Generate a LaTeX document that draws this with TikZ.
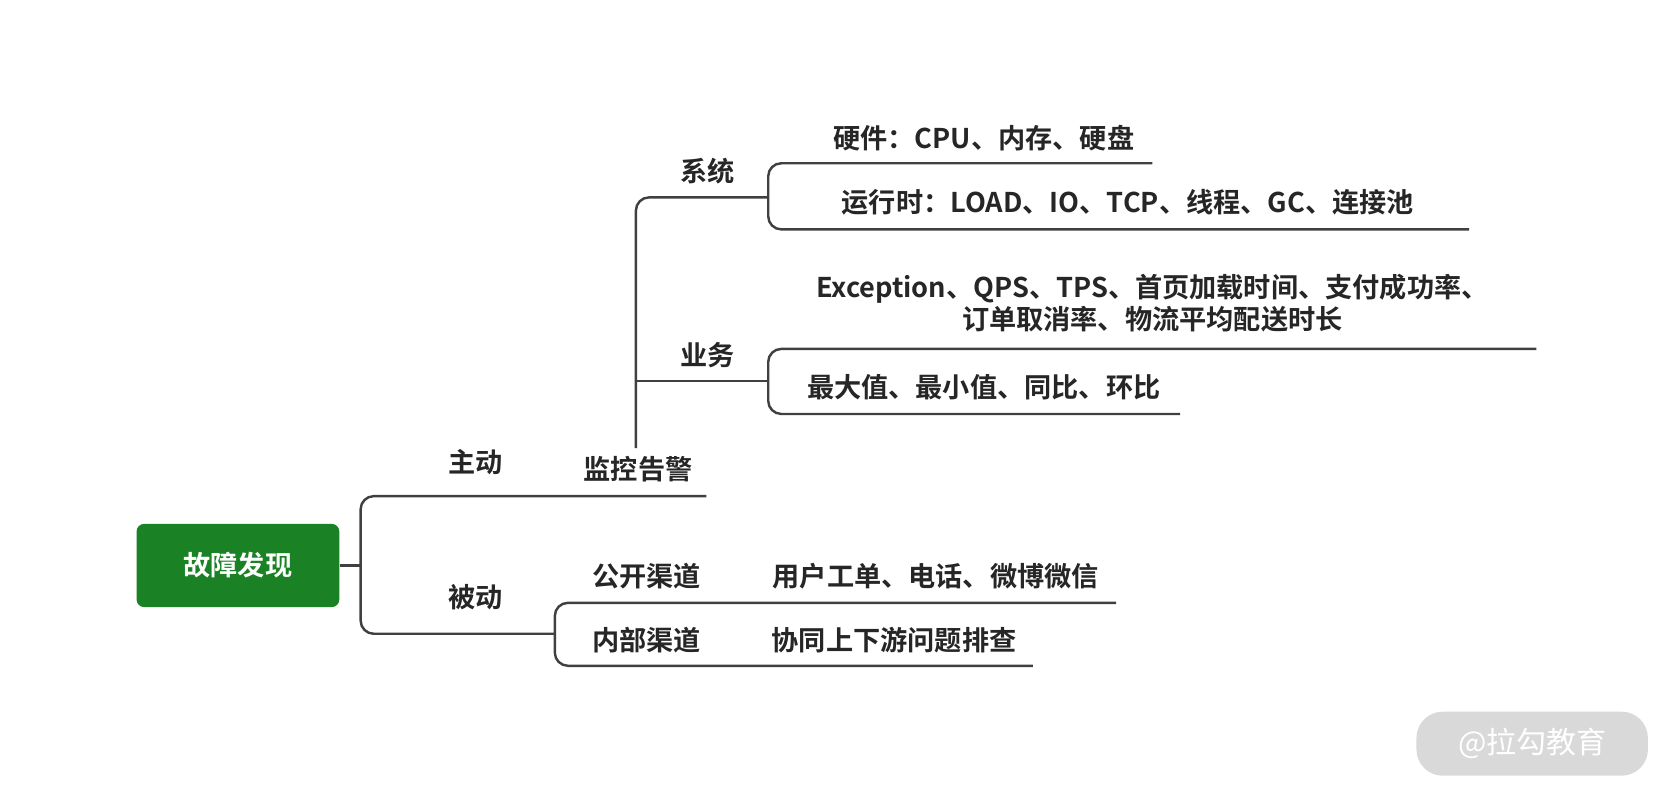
\documentclass[tikz,border=0pt]{standalone}
\usepackage{fontspec}
\setmainfont{Noto Sans CJK SC}[BoldFont={Noto Sans CJK SC Bold}]
\definecolor{rootgreen}{RGB}{26,130,36}
\begin{document}
\begin{tikzpicture}[x=0.02cm,y=-0.02cm,
  every node/.style={font=\bfseries\fontsize{14.5}{17}\selectfont, text=black!85},
  branch/.style={draw=black!75, line width=1.3pt, rounded corners=7pt}]
  \useasboundingbox (0,0) rectangle (1568,749);
  % root and watermark
  \node[fill=rootgreen, rounded corners=4pt, minimum width=3.8cm, minimum height=1.56cm, text=white] (root) at (223,530) {故障发现};
  \node[fill=black!15, rounded corners=14pt, minimum width=4.34cm, minimum height=1.2cm, text=white, font=\fontsize{16}{19}\selectfont] (mark) at (1436,697) {@拉勾教育};
  % labels
  \node (zd) at (446,433) {主动};
  \node (bd) at (446,560) {被动};
  \node (jk) at (598,440) {监控告警};
  \node (xt) at (663,160) {系统};
  \node (yw) at (663,333) {业务};
  \node (yj) at (922,129) {硬件：CPU、内存、硬盘};
  \node (yx) at (1057,190) {运行时：LOAD、IO、TCP、线程、GC、连接池};
  \node[align=center] (zb) at (1080,284) {Exception、QPS、TPS、首页加载时间、支付成功率、\\订单取消率、物流平均配送时长};
  \node (zz) at (922,363) {最大值、最小值、同比、环比};
  \node (gk) at (606,540) {公开渠道};
  \node (nb) at (606,600) {内部渠道};
  \node (gd) at (877,540) {用户工单、电话、微博微信};
  \node (xc) at (838,600) {协同上下游问题排查};
  % connectors
  \coordinate (a) at (338,530);
  \draw[branch] (root.east) -- (a);
  \draw[branch] (662,465) -- (338,465) -- (338,594) -- (520,594);
  \draw[branch] (1046,565) -- (520,565) -- (520,624) -- (968,624);
  \draw[branch] (596,420) -- (596,185) -- (720,185);
  \draw[branch] (596,357) -- (720,357);
  \draw[branch] (1080,153) -- (720,153) -- (720,215) -- (1377,215);
  \draw[branch] (1440,327) -- (720,327) -- (720,388) -- (1106,388);
\end{tikzpicture}
\end{document}
